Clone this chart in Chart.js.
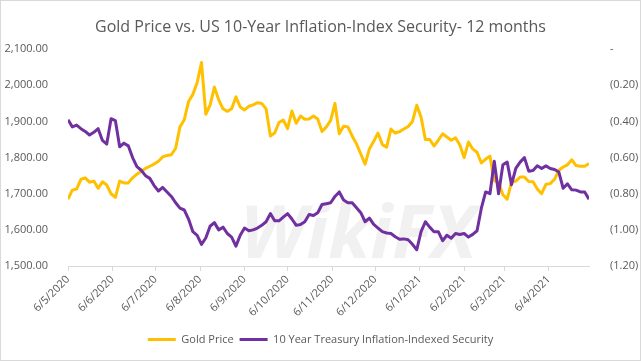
<!DOCTYPE html>
<html>
<head>
<meta charset="utf-8">
<script src="https://cdn.jsdelivr.net/npm/chart.js@4"></script>
<style>
    html, body { margin: 0; padding: 0; background: #fff; }
    #wrap { width: 641px; height: 361px; position: relative; }
</style>
</head>
<body>
<div id="wrap"><canvas id="goldChart"></canvas></div>
<script>
// one reading every 3 calendar days, starting 6 May 2020
const startDate = new Date(2020, 4, 6);
const stepDays = 3;

const goldPrice = [
    1685, 1710, 1713, 1740, 1744, 1732, 1735, 1715, 1733, 1724,
    1700, 1690, 1735, 1730, 1730, 1744, 1754, 1762, 1770, 1776,
    1782, 1790, 1802, 1806, 1808, 1826, 1885, 1905, 1955, 1975,
    2008, 2063, 1920, 1945, 1995, 1960, 1935, 1928, 1935, 1968,
    1940, 1932, 1942, 1946, 1952, 1950, 1935, 1860, 1868, 1897,
    1904, 1880, 1929, 1895, 1915, 1906, 1907, 1915, 1907, 1872,
    1885, 1903, 1950, 1866, 1887, 1885, 1860, 1838, 1810, 1782,
    1824, 1845, 1868, 1836, 1829, 1879, 1868, 1872, 1879, 1886,
    1900, 1945, 1912, 1850, 1850, 1832, 1848, 1866, 1857, 1848,
    1855, 1835, 1800, 1843, 1824, 1815, 1785, 1796, 1804, 1736,
    1732, 1697, 1685, 1732, 1735, 1746, 1746, 1734, 1733, 1713,
    1700, 1726, 1728, 1740, 1765, 1774, 1780, 1794, 1778, 1776,
    1776, 1784
];

const tipsYield = [
    -0.39, -0.43, -0.42, -0.44, -0.455, -0.475, -0.46, -0.44, -0.505, -0.525,
    -0.385, -0.395, -0.54, -0.52, -0.535, -0.60, -0.65, -0.67, -0.70, -0.715,
    -0.755, -0.785, -0.765, -0.79, -0.815, -0.85, -0.88, -0.89, -0.94, -1.01,
    -1.03, -1.08, -1.045, -0.98, -0.96, -1.00, -0.985, -1.02, -1.04, -1.09,
    -1.03, -0.99, -1.005, -1.00, -0.99, -0.975, -0.955, -0.91, -0.95, -0.95,
    -0.93, -0.91, -0.94, -0.975, -0.97, -0.955, -0.915, -0.92, -0.905, -0.86,
    -0.855, -0.85, -0.815, -0.79, -0.835, -0.85, -0.85, -0.878, -0.905, -0.955,
    -0.935, -0.97, -0.99, -1.01, -1.017, -1.02, -1.038, -1.052, -1.05, -1.055,
    -1.08, -1.11, -1.01, -0.955, -0.985, -1.01, -1.01, -1.06, -1.03, -1.046,
    -1.02, -1.026, -1.02, -1.04, -1.025, -1.005, -0.88, -0.79, -0.80, -0.62,
    -0.80, -0.64, -0.625, -0.75, -0.66, -0.625, -0.60, -0.675, -0.672, -0.645,
    -0.66, -0.646, -0.66, -0.666, -0.68, -0.77, -0.745, -0.778, -0.78, -0.79,
    -0.79, -0.83
];

// axis ticks: the 6th of every month
const tickMonths = [
    [2020, 4], [2020, 5], [2020, 6], [2020, 7], [2020, 8], [2020, 9],
    [2020, 10], [2020, 11], [2021, 0], [2021, 1], [2021, 2], [2021, 3]
];

const DAY = 24 * 3600 * 1000;
const dates = goldPrice.map((_, i) => new Date(startDate.getTime() + i * stepDays * DAY));
const dayOf = d => Math.round((d - startDate) / DAY);
const tickDays = tickMonths.map(([y, m]) => dayOf(new Date(y, m, 6)));

function dayLabel(day) {
    const d = new Date(startDate.getTime() + day * DAY);
    return d.getDate() + "/" + (d.getMonth() + 1) + "/" + d.getFullYear();
}

const textColor = "#595959";
const fontFamily = "'Open Sans', 'Liberation Sans', sans-serif";

const frame = {
    id: "frame",
    beforeDatasetsDraw(chart) {
        const ctx = chart.ctx;
        ctx.save();
        ctx.font = "bold italic 74px " + fontFamily;
        ctx.fillStyle = "rgba(190,190,190,0.22)";
        ctx.textAlign = "left";
        ctx.textBaseline = "alphabetic";
        ctx.fillText("WikiFX", 240, 258);
        ctx.restore();
    },
    afterDraw(chart) {
        const ctx = chart.ctx;
        ctx.save();
        ctx.strokeStyle = "#d9d9d9";
        ctx.lineWidth = 1;
        ctx.strokeRect(0.5, 0.5, chart.width - 1, chart.height - 1);
        ctx.restore();
    }
};

new Chart(document.getElementById("goldChart").getContext("2d"), {
    type: "line",
    data: {
        datasets: [{
            label: "Gold Price",
            data: goldPrice.map((v, i) => ({ x: dayOf(dates[i]), y: v })),
            borderColor: "#FFC000",
            backgroundColor: "#FFC000",
            borderWidth: 3,
            pointRadius: 0,
            tension: 0,
            borderJoinStyle: "round",
            yAxisID: "y",
            order: 1
        }, {
            label: "10 Year Treasury Inflation-Indexed Security",
            data: tipsYield.map((v, i) => ({ x: dayOf(dates[i]), y: v })),
            borderColor: "#7030A0",
            backgroundColor: "#7030A0",
            borderWidth: 3,
            pointRadius: 0,
            tension: 0,
            borderJoinStyle: "round",
            yAxisID: "y2",
            order: 0
        }]
    },
    options: {
        responsive: true,
        maintainAspectRatio: false,
        animation: false,
        layout: { padding: { left: 0, right: 0, top: 0, bottom: 6 } },
        plugins: {
            title: {
                display: true,
                text: "Gold Price vs. US 10-Year Inflation-Index Security- 12 months",
                color: textColor,
                font: { family: fontFamily, size: 16, weight: "normal" },
                padding: { top: 18, bottom: 12 }
            },
            legend: {
                position: "bottom",
                labels: {
                    color: textColor,
                    font: { family: fontFamily, size: 11 },
                    usePointStyle: true,
                    pointStyle: "line",
                    pointStyleWidth: 28,
                    padding: 6,
                    sort: (a, b) => a.datasetIndex - b.datasetIndex
                }
            },
            tooltip: { enabled: false }
        },
        scales: {
            x: {
                type: "linear",
                min: 0,
                max: dayOf(dates[dates.length - 1]),
                afterBuildTicks(scale) {
                    scale.ticks = tickDays.map(v => ({ value: v }));
                },
                afterFit(scale) {
                    scale.height = 62;
                },
                ticks: {
                    color: textColor,
                    font: { family: fontFamily, size: 11 },
                    minRotation: 45,
                    maxRotation: 45,
                    autoSkip: false,
                    padding: 2,
                    callback: v => dayLabel(v)
                },
                grid: {
                    drawOnChartArea: false,
                    color: "#d9d9d9",
                    tickLength: 5
                },
                border: { color: "#d9d9d9" }
            },
            y: {
                position: "left",
                min: 1500,
                max: 2100,
                afterFit(scale) {
                    scale.width = 68;
                },
                ticks: {
                    stepSize: 100,
                    color: textColor,
                    font: { family: fontFamily, size: 11 },
                    padding: 12,
                    callback: v => v.toLocaleString("en-US", { minimumFractionDigits: 2, maximumFractionDigits: 2 })
                },
                grid: { display: false },
                border: { display: false }
            },
            y2: {
                position: "right",
                min: -1.2,
                max: 0,
                afterFit(scale) {
                    scale.width = 52;
                },
                ticks: {
                    stepSize: 0.2,
                    color: textColor,
                    font: { family: fontFamily, size: 11 },
                    padding: 13,
                    callback(v) {
                        if (Math.abs(v) < 1e-9) {
                            return "-";
                        }
                        return "(" + Math.abs(v).toFixed(2) + ")";
                    }
                },
                grid: { display: false },
                border: { display: false }
            }
        }
    },
    plugins: [frame]
});
</script>
</body>
</html>
